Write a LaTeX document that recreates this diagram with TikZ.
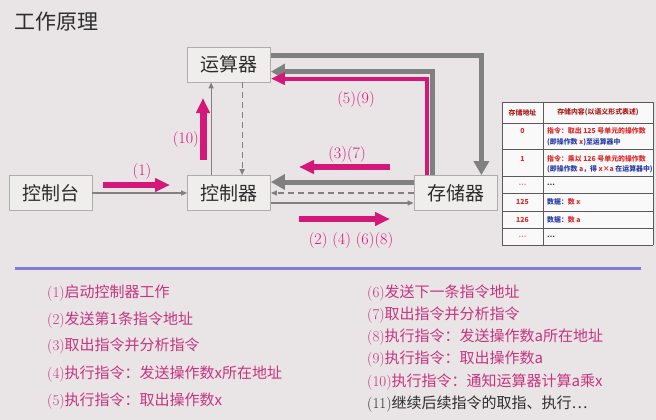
\documentclass[tikz,border=0pt]{standalone}
\usepackage{fontspec}
\newfontfamily\cjk{Noto Sans CJK SC}
\usetikzlibrary{arrows.meta,calc}
\definecolor{bg}{RGB}{233,228,229}
\definecolor{mag}{RGB}{212,24,122}
\definecolor{gr}{RGB}{128,128,128}
\definecolor{boxline}{RGB}{175,172,172}
\definecolor{boxfill}{RGB}{240,237,237}
\definecolor{boxtext}{RGB}{45,45,45}
\definecolor{sep}{RGB}{125,125,212}
\definecolor{listc}{RGB}{198,52,128}
\definecolor{tred}{RGB}{220,40,40}
\definecolor{thead}{RGB}{170,30,30}
\definecolor{tblue}{RGB}{40,60,165}
\definecolor{tline}{RGB}{90,90,90}
\definecolor{tfill}{RGB}{250,249,249}
\newcommand\itm[2]{{\rmfamily #1}{\cjk #2}}
\begin{document}
\begin{tikzpicture}[x=1pt,y=-1pt,
  box/.style={draw=boxline, fill=boxfill, line width=0.8pt, minimum width=83pt, minimum height=35pt, inner sep=0pt, font=\cjk\fontsize{19}{19}\selectfont, text=boxtext},
  thinarr/.style={draw=gr, line width=1.2pt, -{Triangle[length=6pt,width=5pt]}},
  dasharr/.style={thinarr, dash pattern=on 6pt off 4pt},
  thickgray/.style={draw=gr, line width=5pt, -{Triangle[length=14pt,width=15pt]}},
  magpath/.style={draw=mag, line width=4pt, -{Triangle[length=14pt,width=12pt]}},
  magarr/.style={draw=mag, line width=6pt, -{Triangle[length=15pt,width=13pt]}},
  lab/.style={text=mag, font=\fontsize{16}{16}\selectfont, inner sep=0pt},
  tcell/.style={inner sep=0pt, font=\cjk\fontsize{6.9}{7}\selectfont\bfseries},
  tline/.style={draw=tline, line width=0.6pt},
  litem/.style={anchor=west, inner sep=0pt, text=listc, font=\fontsize{15}{15}\selectfont},
]
\fill[bg] (0,0) rectangle (656,420);
\useasboundingbox (0,0) rectangle (656,420);

% title
\node[anchor=west, inner sep=0pt, text=boxtext, font=\cjk\fontsize{21}{21}\selectfont] (title) at (14,22) {工作原理};

% boxes
\node[box] (alu) at (229,64.5) {运算器};
\node[box] (cons) at (50.5,193) {控制台};
\node[box] (ctl) at (229,193) {控制器};
\node[box] (mem) at (455.5,193) {存储器};

% console -> controller
\draw[thinarr] (cons) -- (ctl);
% controller <-> alu
\draw[thinarr] ($(ctl.north west)+(24,0)$) -- ($(alu.south west)+(24,0)$);
\draw[dasharr] ($(alu.south west)+(55,0)$) -- ($(ctl.north west)+(55,0)$);
% alu -> memory (top loop)
\draw[thickgray] ($(alu.north east)+(0,9)$) -| ($(mem.north east)+(-16,0)$);
% memory -> alu
\draw[thickgray] ($(mem.north west)+(19,0)$) |- ($(alu.north east)+(0,25)$);
\draw[magpath] ($(mem.north west)+(13,0)$) |- ($(alu.north east)+(0,32)$);
% memory <-> controller
\draw[thickgray] ($(mem.west)+(0,-11)$) -- ($(ctl.east)+(0,-11)$);
\draw[dasharr] (mem.west) -- (ctl.east);
\draw[thinarr] ($(ctl.east)+(0,10)$) -- ($(mem.west)+(0,10)$);

% magenta indicator arrows
\draw[magarr] (103,185) -- (170,185);
\draw[magarr, line width=7pt] (203,160) -- (203,98);
\draw[magarr] (390,167) -- (299,167);
\draw[magarr] (299,219) -- (390,219);

% labels
\node[lab] (l1) at (142,172) {(1)};
\node[lab, anchor=east] (l10) at (199,140) {(10)};
\node[lab] (l59) at (356,100) {(5)(9)};
\node[lab] (l37) at (347,155) {(3)(7)};
\node[lab] (l2468) at (351,241) {(2) (4) (6)(8)};

% table
\fill[tfill] (502,102) rectangle (653,245);
\foreach \yy in {102,123,149,176,193,211,228,245} \draw[tline] (502,\yy) -- (653,\yy);
\draw[tline] (502,102) -- (502,245);
\draw[tline] (543,102) -- (543,245);
\draw[tline] (653,102) -- (653,245);
\node[tcell, text=thead] (h1) at (522.5,112.5) {存储地址};
\node[tcell, text=thead] (h2) at (598,112.5) {存储内容(以语义形式表述)};
\node[tcell, text=tred] (a0) at (522.5,131) {0};
\node[tcell, text=tred, anchor=west] (c0a) at (547,131) {指令：取出 125 号单元的操作数};
\node[tcell, text=tblue, anchor=west] (c0b) at (547,142) {(即操作数 \textcolor{tred}{\itshape x})至运算器中};
\node[tcell, text=tred] (a1) at (522.5,159) {1};
\node[tcell, text=tred, anchor=west] (c1a) at (547,159) {指令：乘以 126 号单元的操作数};
\node[tcell, text=tblue, anchor=west] (c1b) at (547,169) {(即操作数 \textcolor{tred}{\itshape a}，得 \textcolor{tred}{\itshape x×a} 在运算器中)};
\node[tcell, text=tred!60] (a2) at (522.5,185) {…};
\node[tcell, text=boxtext, anchor=west] (c2) at (547,185) {…};
\node[tcell, text=tred] (a3) at (522.5,202) {125};
\node[tcell, text=tblue, anchor=west] (c3) at (547,202) {数据：\textcolor{tred}{数 \itshape x}};
\node[tcell, text=tred] (a4) at (522.5,219.5) {126};
\node[tcell, text=tblue, anchor=west] (c4) at (547,219.5) {数据：\textcolor{tred}{数 \itshape a}};
\node[tcell, text=tred!60] (a5) at (522.5,237) {…};
\node[tcell, text=boxtext, anchor=west] (c5) at (547,237) {…};

% separator
\draw[sep, line width=3pt] (15,268) -- (641,268);

% lists
\node[litem] (i1) at (47,293) {\itm{(1)}{启动控制器工作}};
\node[litem] (i2) at (47,320) {\itm{(2)}{发送第1条指令地址}};
\node[litem] (i3) at (47,346) {\itm{(3)}{取出指令并分析指令}};
\node[litem] (i4) at (47,374) {\itm{(4)}{执行指令：发送操作数x所在地址}};
\node[litem] (i5) at (47,401) {\itm{(5)}{执行指令：取出操作数x}};
\node[litem] (i6) at (367,293) {\itm{(6)}{发送下一条指令地址}};
\node[litem] (i7) at (367,315) {\itm{(7)}{取出指令并分析指令}};
\node[litem] (i8) at (367,337) {\itm{(8)}{执行指令：发送操作数a所在地址}};
\node[litem] (i9) at (367,359) {\itm{(9)}{执行指令：取出操作数a}};
\node[litem] (i10) at (367,382) {\itm{(10)}{执行指令：通知运算器计算a乘x}};
\node[litem, text=boxtext] (i11) at (367,404) {\itm{(11)}{继续后续指令的取指、执行…}};
\end{tikzpicture}
\end{document}
